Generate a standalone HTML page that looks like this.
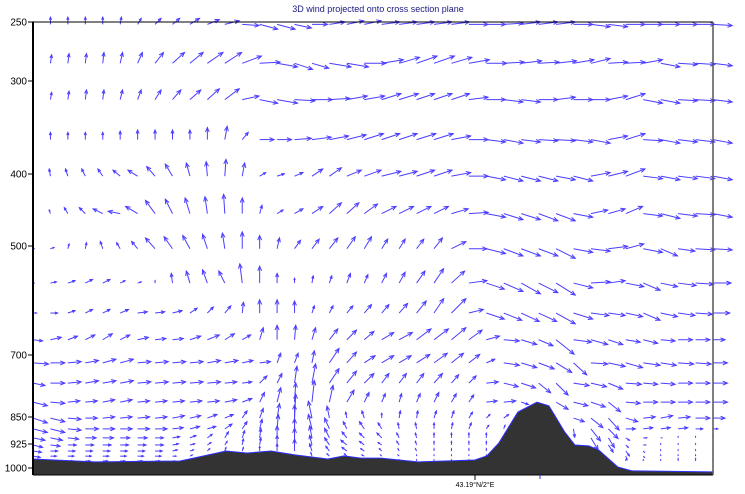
<!DOCTYPE html>
<html><head><meta charset="utf-8"><style>
body{margin:0;background:#fff;width:745px;height:494px;overflow:hidden}
svg{display:block;font-family:"Liberation Sans",sans-serif}
</style></head><body>
<svg id="chart" width="745" height="494" viewBox="0 0 745 494" xmlns="http://www.w3.org/2000/svg">
<text x="378" y="12" font-size="9" fill="#1a1a80" text-anchor="middle">3D wind projected onto cross section plane</text>
<g id="arrows"></g>
<g id="terrain"></g>
<g id="axes"></g>
</svg>
<script>
const yTickLabels=[250,300,400,500,700,850,925,1000];
const levels=[252,285,320,363,403,455,505,568,623,672,719,768,814,853,883,908,928,947,963,978];
const U=[
[0,0,0,0,0,1,3,5,6,8,10,12,14,15,15,14,13,13,14,14,15,15,15,15,15,16,16,16,16,16,16,16,16,16,16,16,16,16,16,16],
[0,1,1,1,1,2,4,7,10,11,13,14,16,17,17,15,14,18,18,18,18,17,17,17,17,17,17,17,17,17,17,17,16,16,16,16,16,16,16,16],
[0,1,1,1,1,2,3,5,7,9,10,12,14,15,17,17,17,17,17,17,16,16,15,15,15,16,16,16,16,16,16,16,16,16,16,16,16,16,16,16],
[0,0,0,0,0,0,0,0,0,0,0,2,5,12,12,14,16,16,16,16,15,15,16,16,16,16,16,16,16,16,16,16,16,16,16,16,16,16,16,16],
[0,-1,-2,-3,-4,-6,-8,-7,-6,-3,-1,1,2,5,6,7,9,10,12,14,16,15,15,15,16,16,16,16,16,16,16,16,16,16,16,16,16,16,16,16],
[0,-1,-3,-5,-8,-10,-10,-8,-6,-4,-2,-1,0,2,5,7,9,10,10,11,12,12,12,12,14,16,16,16,16,16,16,16,14,14,14,16,16,16,16,16],
[1,3,1,1,-2,-3,-5,-8,-7,-6,-4,-2,0,0,2,5,6,7,7,6,5,5,6,7,12,15,16,16,16,16,16,16,16,16,15,16,14,14,16,16],
[1,5,6,6,6,4,3,0,-1,-3,-4,-5,-2,0,0,0,1,2,3,3,4,5,7,8,11,15,15,16,16,16,16,16,16,14,15,14,14,15,15,15],
[3,6,6,6,6,7,8,8,8,6,5,5,1,0,0,0,2,3,5,6,6,7,8,8,12,12,15,15,15,15,16,16,15,14,14,14,14,14,14,14],
[8,9,8,8,8,8,9,9,9,9,10,8,7,3,0,1,3,7,8,8,10,11,12,12,12,11,11,13,13,12,15,15,14,12,12,12,12,12,12,10],
[13,12,11,11,11,11,11,11,11,11,11,11,9,9,3,3,2,8,8,9,10,10,11,11,10,9,7,13,13,13,13,11,14,14,14,14,13,13,13,12],
[10,12,11,11,11,11,11,11,11,11,11,10,8,6,4,2,3,8,8,8,6,6,6,7,6,6,10,12,12,10,10,13,13,12,13,12,12,12,12,12],
[12,12,10,10,10,10,10,10,10,10,10,10,8,4,3,1,2,3,6,4,3,2,3,4,4,4,9,10,6,3,10,12,12,10,12,12,12,12,12,12],
[12,12,11,10,10,10,10,10,10,9,8,7,4,3,2,1,-3,-2,-1,-2,0,1,1,2,2,3,3,4,0,0,-2,9,10,9,10,10,10,10,12,10],
[12,12,11,11,10,10,10,10,9,8,7,6,4,2,1,0,-3,-4,-3,-4,-3,-1,-1,0,1,2,2,1,0,0,0,1,8,8,8,8,8,8,6,4],
[10,10,9,9,9,8,8,7,6,5,4,3,2,1,0,0,-2,-4,-4,-4,-4,-2,-1,0,0,0,0,0,0,0,0,0,6,5,3,3,1,0,0,0],
[8,8,7,7,7,7,7,7,5,4,3,2,1,1,0,0,-2,-4,-5,-4,-3,-2,-1,0,0,0,0,0,0,0,0,0,0,4,2,2,0,0,0,0],
[7,6,6,6,6,6,6,6,4,3,2,1,1,0,0,0,-2,-3,-4,-3,-2,-1,-1,0,0,0,0,0,0,0,0,0,0,0,3,1,0,0,0,0],
[6,5,5,5,5,5,5,5,3,2,1,0,0,0,0,0,-1,-2,-2,-2,-1,-1,0,0,0,0,0,0,0,0,0,0,0,0,1,1,0,0,0,0],
[4,4,4,4,4,4,4,4,2,1,0,0,0,0,0,0,0,0,0,0,0,0,0,0,0,0,0,0,0,0,0,0,0,0,0,0,0,0,0,0]
];
const V=[
[2,6,6,6,6,6,5,5,5,5,4,3,-1,-4,-4,-3,0,2,3,3,2,2,2,2,2,0,0,1,2,2,2,0,-2,-2,0,0,0,0,0,-1],
[0,7,8,8,9,9,9,9,9,9,9,9,6,1,-3,-5,-4,-3,-3,0,3,5,6,6,5,3,0,1,2,1,2,3,4,1,1,3,-3,-1,-1,-2],
[2,6,7,8,8,8,8,8,8,8,9,9,3,-3,-3,-1,0,1,3,3,5,5,5,5,5,2,0,-2,-2,0,2,0,0,3,5,-3,-3,-1,-1,-2],
[0,6,6,6,6,7,8,8,8,8,10,11,6,0,0,1,2,3,4,5,5,5,5,5,3,0,-2,-3,-2,-1,-1,-2,-3,3,5,-1,-3,-2,-2,-3],
[2,6,6,6,6,5,5,8,10,11,12,14,11,3,2,3,6,7,5,5,4,4,5,5,3,0,-3,-4,-4,-4,-3,-4,3,4,6,-2,-3,-2,-2,-3],
[0,3,5,5,4,2,6,11,12,13,14,16,13,7,3,4,6,9,9,8,6,6,6,6,4,1,-3,-5,-5,-6,-6,-3,3,4,6,-2,-4,-2,-1,-3],
[0,1,4,5,6,5,6,9,10,11,12,13,14,11,9,7,8,9,10,10,8,8,8,9,6,0,-4,-6,-6,-6,-8,-3,-2,2,4,-3,-6,-2,-1,-1],
[0,1,2,3,3,2,1,2,8,10,11,10,16,14,8,4,6,6,8,7,8,9,10,12,10,2,-5,-7,-9,-8,-10,-4,1,2,-3,-6,-3,-2,-1,0],
[0,0,2,3,3,3,1,1,2,4,5,6,9,11,11,10,6,6,6,7,7,8,10,12,12,3,-5,-6,-7,-7,-9,-5,-2,-2,-3,-6,-3,-2,-1,0],
[-1,2,3,4,5,4,2,1,1,3,4,5,4,10,12,12,10,9,8,7,6,6,9,9,10,8,3,-1,-4,-5,-12,-2,-4,-4,-2,-3,-1,0,0,0],
[-1,0,1,2,3,3,1,1,1,1,2,2,2,1,8,8,10,12,9,6,6,6,7,8,8,7,3,-2,-4,-5,-8,-10,-1,-3,-4,-2,-2,-1,-1,0],
[-2,0,1,2,2,2,1,1,1,1,1,1,1,6,8,14,16,12,10,8,8,8,8,8,7,6,1,-3,-4,-8,-10,-2,-3,-5,-1,-1,-1,0,0,0],
[-3,-1,1,1,2,2,1,1,1,1,1,2,3,8,12,16,18,14,10,8,7,7,7,8,7,6,1,1,-2,-10,-6,-3,-4,-8,-1,0,0,0,0,0],
[-4,-3,-1,0,1,1,1,1,2,2,3,3,6,8,12,20,14,10,5,6,4,6,6,6,6,5,3,3,0,0,3,-3,-8,-10,-3,1,2,1,0,0],
[-3,-3,-1,0,0,0,0,0,1,2,2,4,6,8,12,20,12,9,6,6,5,5,5,5,5,5,3,3,0,0,0,-7,-10,-8,0,1,1,1,0,0],
[-2,-2,-1,0,0,0,0,0,1,2,3,5,6,8,10,16,10,8,5,4,4,4,4,4,4,4,4,3,0,0,0,0,-10,-8,-2,0,0,1,1,2],
[-2,-1,0,0,0,0,0,0,1,1,2,3,5,6,8,14,8,6,4,3,2,3,3,3,3,3,3,2,0,0,0,0,0,-6,-2,0,1,1,1,1],
[-1,0,0,0,0,0,0,0,1,1,2,3,3,4,6,10,6,4,3,2,2,2,2,2,2,2,2,2,0,0,0,0,0,0,-4,-1,1,1,1,1],
[-1,0,0,0,0,0,0,0,0,1,1,2,2,2,3,4,3,2,2,1,1,1,1,1,1,1,1,1,0,0,0,0,0,0,-3,-1,1,1,1,1],
[0,0,0,0,0,0,0,0,0,0,0,1,1,1,1,1,1,1,1,1,1,1,1,1,1,1,1,1,1,1,1,1,1,1,1,1,1,2,2,2]
];
const terrainIdx=[0,3.56,8.43,9.8,11.07,12.27,13.65,15.02,16.91,17.83,18.81,19.9,22.08,25.34,26.03,26.72,27.81,28.9,29.59,30.5,31.08,31.88,32.45,33.54,34.35,38.99];
const terrainPres=[972,981,978,962,947,953,947,959,972,962,969,969,981,975,962,922,838,814,823,892,928,931,944,997,1009,1012];

const NS='http://www.w3.org/2000/svg';
const L=33,R=713,T=22,B=475,NCOL=40,SCALE=1.2;
const tickPx=[22,81,174,246,355,417,444,468];
function yScale(p){
  for(let i=0;i<yTickLabels.length-1;i++){
    if(p<=yTickLabels[i+1]||i===yTickLabels.length-2){
      const a=yTickLabels[i],b=yTickLabels[i+1];
      return tickPx[i]+(p-a)/(b-a)*(tickPx[i+1]-tickPx[i]);
    }
  }
}
function xScale(i){return L+i*(R-L)/(NCOL-1);}
function surfAt(idx){
  for(let i=0;i<terrainIdx.length-1;i++){
    if(idx<=terrainIdx[i+1]){const t=(idx-terrainIdx[i])/(terrainIdx[i+1]-terrainIdx[i]);return terrainPres[i]+t*(terrainPres[i+1]-terrainPres[i]);}
  }
  return terrainPres[terrainPres.length-1];
}
function mk(tag,attrs,parent){const e=document.createElementNS(NS,tag);for(const k in attrs)e.setAttribute(k,attrs[k]);parent.appendChild(e);return e;}

const ag=document.getElementById('arrows');
levels.forEach((p,r)=>{
  for(let c=0;c<NCOL;c++){
    const u=U[r][c]*SCALE,v=V[r][c]*SCALE;
    const len=Math.hypot(u,v);
    if(len<0.5)continue;
    if(p>surfAt(c)+4)continue;
    const x0=xScale(c),y0=yScale(p),x1=x0+u,y1=y0-v;
    const g=mk('g',{},ag);
    
    
    mk('line',{x1:x0,y1:y0,x2:x1,y2:y1,stroke:'#4a3cff','stroke-width':1},g);
    const h=Math.min(5,len*0.4),ang=Math.atan2(y1-y0,x1-x0);
    const a1=ang+Math.PI-0.4,a2=ang+Math.PI+0.4;
    mk('path',{d:`M${x1+h*Math.cos(a1)},${y1+h*Math.sin(a1)} L${x1},${y1} L${x1+h*Math.cos(a2)},${y1+h*Math.sin(a2)}`,fill:'none',stroke:'#4a3cff','stroke-width':1},g);
  }
});

const tg=document.getElementById('terrain');
let d=`M${xScale(terrainIdx[0])},${B} `;
terrainIdx.forEach((ix,i)=>{d+=`L${xScale(ix)},${yScale(terrainPres[i])} `;});
d+=`L${xScale(terrainIdx[terrainIdx.length-1])},${B} Z`;
const tp=mk('path',{d:d,fill:'#333333',stroke:'none'},tg);


let d2='';
terrainIdx.forEach((ix,i)=>{d2+=(i?'L':'M')+xScale(ix)+','+yScale(terrainPres[i])+' ';});
const tl=mk('path',{d:d2,fill:'none',stroke:'#3030ff','stroke-width':1},tg);



const ax=document.getElementById('axes');
mk('line',{x1:L,y1:T,x2:R,y2:T,stroke:'#000','stroke-width':1},ax);
mk('line',{x1:L,y1:B,x2:R,y2:B,stroke:'#000','stroke-width':1},ax);
mk('line',{x1:R,y1:T,x2:R,y2:B,stroke:'#555','stroke-width':1.5},ax);
const yl=mk('line',{x1:L,y1:T,x2:L,y2:B,stroke:'#000','stroke-width':2},ax);


yTickLabels.forEach(p=>{
  const y=yScale(p);
  mk('line',{x1:L-5,y1:y,x2:L,y2:y,stroke:'#000','stroke-width':1},ax);
  const t=mk('text',{x:L-6,y:y+3.5,'font-size':10,'text-anchor':'end',fill:'#000'},ax);
  
  
  t.textContent=p;
});
mk('line',{x1:475,y1:B,x2:475,y2:B+5,stroke:'#000','stroke-width':1},ax);
mk('line',{x1:540,y1:B,x2:540,y2:B+4,stroke:'#3030ff','stroke-width':1},ax);
const xl=mk('text',{x:475,y:487,'font-size':7,'text-anchor':'middle',fill:'#000'},ax);


xl.textContent='43.19°N/2°E';
</script>
</body></html>
